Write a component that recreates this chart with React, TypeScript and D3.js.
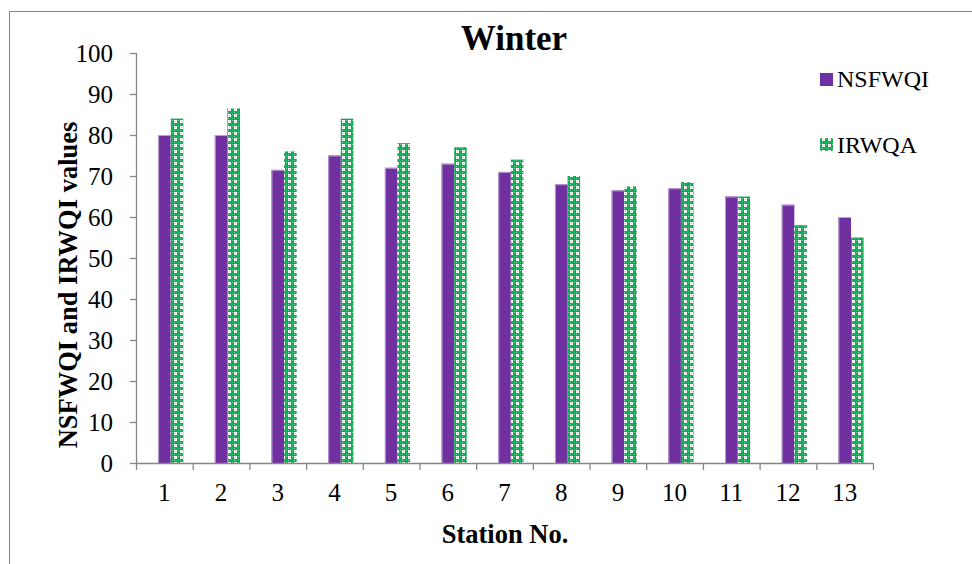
import React from "react";
import * as d3 from "d3";

const stations = ["1", "2", "3", "4", "5", "6", "7", "8", "9", "10", "11", "12", "13"];
const nsfwqi = [80, 80, 71.5, 75, 72, 73, 71, 68, 66.5, 67, 65, 63, 60];
const irwqa = [84, 86.5, 76, 84, 78, 77, 74, 70, 67.5, 68.5, 65, 58, 55];
const yTicks = [0, 10, 20, 30, 40, 50, 60, 70, 80, 90, 100];
const seriesNames = ["NSFWQI", "IRWQA"];

const W = 972;
const H = 564;
const left = 136;
const right = 873;
const top = 53;
const bottom = 463;
const PURPLE = "#7030A0";
const GREEN = "#00B050";
const AXIS = "#868686";
const FONT = "'Liberation Serif', 'Times New Roman', serif";

export default function App() {
  const x = d3.scaleBand<string>().domain(stations).range([left, right]).padding(0);
  const y = d3.scaleLinear().domain([0, 100]).range([bottom, top]);
  const bw = x.bandwidth();
  const barW = bw * 0.222;
  const offset = bw * 0.39;

  return (
    <svg
      width={W}
      height={H}
      style={{ position: "absolute", left: 0, top: 0, display: "block", background: "#fff" }}
    >
      <defs>
        <pattern id="gpat" width={6} height={6} patternUnits="userSpaceOnUse">
          <rect width={6} height={6} fill={GREEN} />
          <rect x={0} y={0} width={3} height={3} fill="#ffffff" />
          <rect x={1} y={1} width={1} height={1} fill="#8fe0b2" />
          <rect x={3} y={3} width={2} height={2} fill="#19b860" />
          <rect x={4} y={0} width={1} height={1} fill="#7fd9a6" />
          <rect x={0} y={4} width={1} height={1} fill="#7fd9a6" />
        </pattern>
      </defs>
      <rect x={9.5} y={11.5} width={1000} height={600} fill="none" stroke={AXIS} strokeWidth={1} />

      <text x={514} y={50} textAnchor="middle" fontFamily={FONT} fontWeight="bold" fontSize={35} fill="#000">
        Winter
      </text>

      {/* bars */}
      {stations.map((s, i) => {
        const x0 = (x(s) as number) + offset;
        return (
          <g key={s}>
            <rect x={x0} y={y(nsfwqi[i])} width={barW} height={bottom - y(nsfwqi[i])} fill={PURPLE} />
            <rect x={x0} y={y(nsfwqi[i])} width={1} height={bottom - y(nsfwqi[i])} fill="#b89fd0" />
            <rect x={x0} y={y(nsfwqi[i])} width={barW} height={1} fill="#b89fd0" />
            <rect
              x={x0 + barW}
              y={y(irwqa[i])}
              width={barW}
              height={bottom - y(irwqa[i])}
              fill="url(#gpat)"
            />
          </g>
        );
      })}

      {/* y axis */}
      <line x1={left + 0.5} x2={left + 0.5} y1={top} y2={bottom} stroke={AXIS} strokeWidth={1.3} />
      {yTicks.map((t) => (
        <g key={t}>
          <line x1={left - 6} x2={left} y1={y(t) + 0.5} y2={y(t) + 0.5} stroke={AXIS} strokeWidth={1.3} />
          <text
            x={113}
            y={y(t)}
            dy="0.35em"
            textAnchor="end"
            fontFamily={FONT}
            fontSize={25}
            fill="#000"
          >
            {t}
          </text>
        </g>
      ))}

      {/* x axis */}
      <line x1={left} x2={right} y1={bottom + 0.5} y2={bottom + 0.5} stroke={AXIS} strokeWidth={1.3} />
      {[...stations.map((s) => x(s) as number), right].map((v, i) => (
        <line key={i} x1={v + 0.5} x2={v + 0.5} y1={bottom} y2={bottom + 7} stroke={AXIS} strokeWidth={1.3} />
      ))}
      {stations.map((s) => (
        <text
          key={s}
          x={(x(s) as number) + bw / 2}
          y={501}
          textAnchor="middle"
          fontFamily={FONT}
          fontSize={25}
          fill="#000"
        >
          {s}
        </text>
      ))}

      <text x={505} y={543} textAnchor="middle" fontFamily={FONT} fontWeight="bold" fontSize={26.5} fill="#000">
        Station No.
      </text>
      <text
        transform={`translate(77,285) rotate(-90)`}
        textAnchor="middle"
        fontFamily={FONT}
        fontWeight="bold"
        fontSize={26.5}
        fill="#000"
      >
        NSFWQI and IRWQI values
      </text>

      {/* legend */}
      <rect x={820} y={73} width={13} height={13} fill={PURPLE} />
      <text x={837} y={87} fontFamily={FONT} fontSize={24} fill="#000">
        {seriesNames[0]}
      </text>
      <rect x={820} y={138} width={13} height={13} fill="url(#gpat)" />
      <text x={837} y={153} fontFamily={FONT} fontSize={24} fill="#000">
        {seriesNames[1]}
      </text>
    </svg>
  );
}
